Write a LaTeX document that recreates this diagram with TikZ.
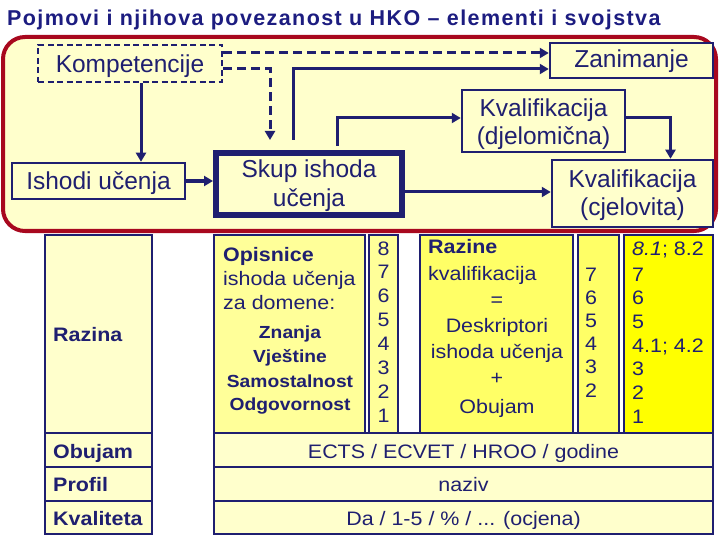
\documentclass[tikz,border=0pt]{standalone}
\usepackage{fontspec}
\setmainfont{Liberation Sans}
\newfontfamily\lowfont[FakeStretch=1.1]{Liberation Sans}
\newfontfamily\titlefont[LetterSpace=6.5]{Liberation Sans}
\usetikzlibrary{arrows.meta}
\definecolor{navy}{HTML}{1F1F70}
\definecolor{titleblue}{HTML}{1C1C80}
\definecolor{dred}{HTML}{A8081E}
\definecolor{ly}{HTML}{FFFFCC}
\definecolor{my}{HTML}{FFFF99}
\definecolor{by}{HTML}{FFFF66}
\definecolor{yy}{HTML}{FFFF00}
\tikzset{
  every node/.style={inner sep=0pt, text=navy},
  box/.style={draw=navy, line width=2.5pt, fill=ly},
  up/.style={font=\fontsize{24.5}{28}\selectfont, anchor=base},
  lo/.style={font=\lowfont\fontsize{19.5}{23}\selectfont, anchor=base},
  lob/.style={font=\lowfont\bfseries\fontsize{19.5}{23}\selectfont, anchor=base},
  los/.style={font=\lowfont\bfseries\fontsize{17.5}{21}\selectfont, anchor=base},
  conn/.style={draw=navy, line width=3pt, -{Triangle[length=9pt,width=10pt]}},
  dconn/.style={conn, dash pattern=on 9pt off 5pt},
}
\begin{document}
\begin{tikzpicture}[x=1pt,y=-1pt]
\useasboundingbox (0,0) rectangle (720,540);

% title
\node[anchor=base west, font=\titlefont\bfseries\fontsize{21.5}{25}\selectfont, text=titleblue] (title) at (7,26) {Pojmovi i njihova povezanost u HKO – elementi i svojstva};

% red frame
\node[draw=dred, line width=4pt, fill=ly, rounded corners=22pt, minimum width=713pt, minimum height=194pt] (frame) at (359.5,134) {};

% upper boxes
\node[box, line width=2.5pt, dash pattern=on 6pt off 3.5pt, minimum width=184pt, minimum height=37pt] (komp) at (130,63.5) {};
\node[box, minimum width=163pt, minimum height=35pt] (zan) at (631.5,60.5) {};
\node[box, minimum width=163pt, minimum height=62pt] (kvd) at (543.5,121) {};
\node[box, minimum width=173pt, minimum height=36pt] (ish) at (98.5,181) {};
\node[box, line width=6pt, minimum width=186pt, minimum height=62pt] (skup) at (309,184) {};
\node[box, minimum width=161pt, minimum height=67pt] (kvc) at (632.5,193.5) {};

\node[up] (kompT) at (130,72.5) {Kompetencije};
\node[up] (zanT) at (631.5,67.5) {Zanimanje};
\node[up] (kvdT1) at (543.5,116.5) {Kvalifikacija};
\node[up] (kvdT2) at (543.5,145) {(djelomična)};
\node[up] (ishT) at (98.5,189.5) {Ishodi učenja};
\node[up] (skT1) at (309,177.5) {Skup ishoda};
\node[up] (skT2) at (309,206.5) {učenja};
\node[up] (kvcT1) at (632.5,187.5) {Kvalifikacija};
\node[up] (kvcT2) at (632.5,215.5) {(cjelovita)};

% connectors
\draw[conn] ([xshift=11pt]komp.south) -- ([xshift=42.5pt]ish.north);
\draw[conn, line width=4.5pt] (ish.east) -- (ish.east -| skup.west);
\draw[dconn] ([yshift=10.5pt]komp.east) -- ([yshift=10.5pt]komp.east -| zan.west);
\draw[dconn] ([yshift=-5.5pt]komp.east) -| ([xshift=-39pt,yshift=10pt]skup.north);
\draw[conn] ([xshift=-16pt,yshift=10pt]skup.north) |- ([yshift=-8.5pt]zan.west);
\draw[conn] ([xshift=28pt,yshift=4pt]skup.north) |- ([yshift=3pt]kvd.west);
\draw[conn] ([yshift=3pt]kvd.east) -| ([xshift=38pt]kvc.north);
\draw[conn] ([yshift=-8pt]skup.east) -- ([yshift=-8pt]skup.east -| kvc.west);

% lower left column
\node[box, minimum width=107pt, minimum height=198pt] (raz) at (98.5,334) {};
\node[box, minimum width=107pt, minimum height=34pt] (obu) at (98.5,450) {};
\node[box, minimum width=107pt, minimum height=34pt] (pro) at (98.5,484) {};
\node[box, minimum width=107pt, minimum height=33pt] (kva) at (98.5,517.5) {};
\node[lob, anchor=base west] (razT) at (53,341) {Razina};
\node[lob, anchor=base west] (obuT) at (53,458) {Obujam};
\node[lob, anchor=base west] (proT) at (53,491) {Profil};
\node[lob, anchor=base west] (kvaT) at (53,525) {Kvaliteta};

% lower right table
\node[box, fill=my, minimum width=151pt, minimum height=198pt] (opi) at (289.5,334) {};
\node[box, fill=my, minimum width=29pt, minimum height=198pt] (n8) at (383.5,334) {};
\node[box, fill=by, minimum width=153pt, minimum height=198pt] (rzn) at (496.5,334) {};
\node[box, fill=by, minimum width=41pt, minimum height=198pt] (n7) at (598.5,334) {};
\node[box, fill=yy, minimum width=89pt, minimum height=198pt] (yel) at (668.5,334) {};
\node[box, minimum width=499pt, minimum height=34pt] (ects) at (463.5,450) {};
\node[box, minimum width=499pt, minimum height=34pt] (naz) at (463.5,484) {};
\node[box, minimum width=499pt, minimum height=33pt] (da) at (463.5,517.5) {};

\node[lo] (ectsT) at (463.5,458) {ECTS / ECVET / HROO / godine};
\node[lo] (nazT) at (463.5,491) {naziv};
\node[lo] (daT) at (463.5,525) {Da / 1-5 / \% / ... (ocjena)};

\node[lob, anchor=base west] (opiT1) at (223,261) {Opisnice};
\node[lo, anchor=base west] (opiT2) at (223,285) {ishoda učenja};
\node[lo, anchor=base west] (opiT3) at (223,309) {za domene:};
\node[los] (opiT4) at (290,338) {Znanja};
\node[los] (opiT5) at (290,362) {Vještine};
\node[los] (opiT6) at (290,387) {Samostalnost};
\node[los] (opiT7) at (290,410) {Odgovornost};

\foreach \d [count=\i from 0] in {8,7,6,5,4,3,2,1}
  \node[lo] (n8d\i) at (383.5,255+23.9*\i) {\d};

\node[lob, anchor=base west] (rznT1) at (428,253) {Razine};
\node[lo, anchor=base west] (rznT2) at (428,280) {kvalifikacija};
\node[lo] (rznT3) at (497,306.5) {=};
\node[lo] (rznT4) at (497,332) {Deskriptori};
\node[lo] (rznT5) at (497,358) {ishoda učenja};
\node[lo] (rznT6) at (497,384.5) {+};
\node[lo] (rznT7) at (497,413) {Obujam};

\foreach \d [count=\i from 0] in {7,6,5,4,3,2}
  \node[lo] (n7d\i) at (591,281+23.2*\i) {\d};

\node[lo, anchor=base west] (yel0) at (632,255) {\textit{8.1}; 8.2};
\foreach \d [count=\i from 0] in {7,6,5,{4.1; 4.2},3,2,1}
  \node[lo, anchor=base west] (yeld\i) at (632,281+23.7*\i) {\d};
\end{tikzpicture}
\end{document}
